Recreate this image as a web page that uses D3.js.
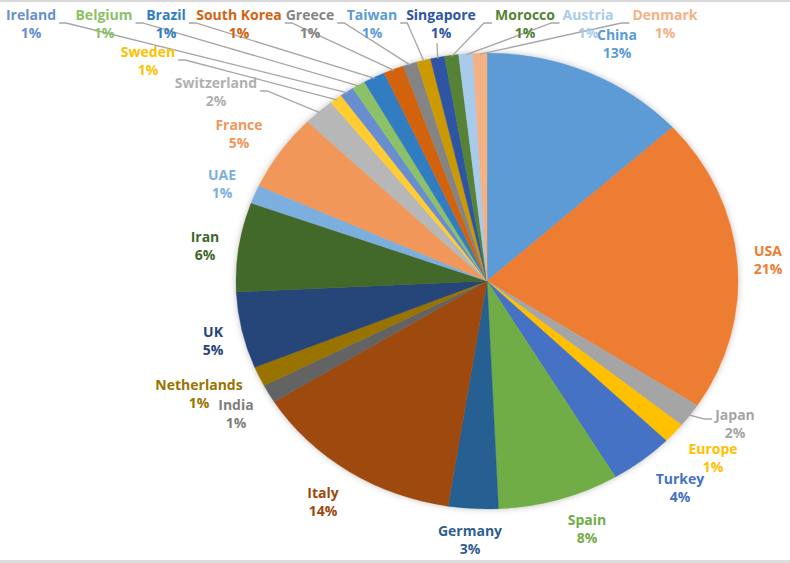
<!DOCTYPE html>
<html>
<head>
<meta charset="utf-8">
<script src="https://cdn.jsdelivr.net/npm/d3@7"></script>
<style>
  html, body { margin: 0; padding: 0; background: #fff; }
  svg { display: block; }
  text { font-family: "Open Sans", "DejaVu Sans", sans-serif; font-weight: 700; font-size: 14px; }
</style>
</head>
<body>
<svg id="chart" width="790" height="563"></svg>
<script>
// ---- data ----
const categories = ["China","USA","Japan","Europe","Turkey","Spain","Germany","Italy","India","Netherlands","UK","Iran","UAE","France","Switzerland","Sweden","Ireland","Belgium","Brazil","South Korea","Greece","Taiwan","Singapore","Morocco","Austria","Denmark"];
const values = [13.2, 20.9, 1.7, 1.45, 4.1, 7.8, 3.2, 13.6, 1.3, 1.4, 5.4, 6.3, 1.3, 5.45, 2.0, 0.8, 0.9, 0.85, 1.4, 1.3, 0.9, 0.9, 0.9, 0.9, 0.9, 0.9];

// ---- styles ----
const sliceColors = ["#5B9BD5","#ED7D31","#A5A5A5","#FFC000","#4472C4","#70AD47","#255E91","#9E480E","#636363","#997300","#264478","#43682B","#7CAFDD","#F1975A","#B7B7B7","#FFCD33","#698ED0","#8CC168","#327DC2","#D3620F","#848484","#CC9A06","#2F55A4","#548235","#A9CBEB","#F4B183"];
const labelColors = ["#5B9BD5","#ED7D31","#A5A5A5","#FFC000","#4472C4","#70AD47","#2F5F8F","#9E480E","#7F7F7F","#997300","#264478","#43682B","#7CAFDD","#F1975A","#B0B0B0","#FFC000","#698ED0","#8CC168","#327DC2","#D3620F","#848484","#5B9BD5","#2F55A4","#548235","#A9CBEB","#F4B183"];

// ---- layout (label name-line centre, leader side) ----
const labelLayout = {
  "China":[617,35,null], "USA":[768,251,null], "Japan":[735,415,"left"], "Europe":[713,449,null],
  "Turkey":[680,479,null], "Spain":[587,520,null], "Germany":[470,531,null], "Italy":[323,493,null],
  "India":[236,405,null], "Netherlands":[199,385,null], "UK":[213,332,null], "Iran":[205,237,null],
  "UAE":[222,175,null], "France":[239,125,null], "Switzerland":[216,83,"right"], "Sweden":[148,52,"right"],
  "Ireland":[31,15,"right"], "Belgium":[104,15,"right"], "Brazil":[166,15,"right"], "South Korea":[239,15,"right"],
  "Greece":[310,15,"right"], "Taiwan":[372,15,"right"], "Singapore":[441,15,"below"], "Morocco":[525,15,"left"],
  "Austria":[588,15,"left"], "Denmark":[665,15,"left"]
};

const W = 790, H = 563;
const cx = 487, cy = 281, ry = 228, rx = 251;
const svg = d3.select("#chart");

// frame lines
svg.append("rect").attr("x",0).attr("y",0).attr("width",W).attr("height",2).attr("fill","#D9D9D9");
svg.append("rect").attr("x",0).attr("y",560).attr("width",W).attr("height",3).attr("fill","#DDDDDD");

const defs = svg.append("defs");
const f = defs.append("filter").attr("id","shadow").attr("x","-10%").attr("y","-10%").attr("width","120%").attr("height","120%");
f.append("feDropShadow").attr("dx",0).attr("dy",0).attr("stdDeviation",3).attr("flood-color","#000").attr("flood-opacity",0.25);

const total = d3.sum(values);
const data = categories.map((c,i)=>({name:c, value:values[i], i}));
const pie = d3.pie().value(d=>d.value).sort(null).startAngle(0).endAngle(2*Math.PI);
const arcs = pie(data);
const arc = d3.arc().innerRadius(0).outerRadius(ry);

const g = svg.append("g").attr("transform",`translate(${cx},${cy}) scale(${rx/ry},1)`).attr("filter","url(#shadow)");
g.selectAll("path").data(arcs).join("path")
  .attr("d", arc)
  .attr("fill", d=>sliceColors[d.data.i])
  .attr("stroke", d=>sliceColors[d.data.i])
  .attr("stroke-width", 0.4);

const pct = v => Math.round(v/total*100) + "%";
const edge = a => [cx + rx*Math.sin(a)*0.995, cy - ry*Math.cos(a)*0.995];

const lines = svg.append("g");
const labels = svg.append("g");

arcs.forEach(d=>{
  const name = d.data.name;
  const [lx, ly, side] = labelLayout[name];
  const col = labelColors[d.data.i];
  const t = labels.append("text").attr("text-anchor","middle").attr("fill",col);
  t.append("tspan").attr("x",lx).attr("y",ly+5).text(name);
  const tp = t.append("tspan").attr("x",lx).attr("y",ly+23).text(pct(d.data.value));
  if (side) {
    const bb = t.node().getBBox();
    const nameW = t.select("tspan").node().getComputedTextLength();
    const mid = (d.startAngle + d.endAngle)/2;
    const [ex, ey] = edge(mid);
    let pts;
    if (side === "right") {
      const sx = lx + nameW/2 + 3, sy = ly + 8;
      pts = [[sx,sy],[sx+7,sy],[ex,ey]];
    } else if (side === "left") {
      const sx = lx - nameW/2 - 3, sy = ly + (name==="Japan"?4:8);
      pts = [[sx,sy],[sx-8,sy],[ex,ey]];
    } else {
      const sx = lx - 4, sy = bb.y + bb.height + 1;
      pts = [[sx,sy],[ex,ey]];
    }
    lines.append("path").attr("d", d3.line()(pts)).attr("fill","none").attr("stroke","#A6A6A6").attr("stroke-width",1.3);
  }
});
</script>
</body>
</html>
